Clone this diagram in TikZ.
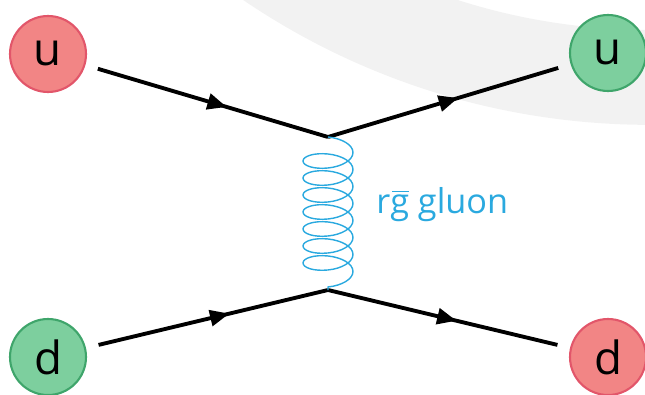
\documentclass[tikz,border=0pt]{standalone}
\usepackage{fontspec}
\setmainfont{Open Sans}
\usetikzlibrary{arrows.meta, decorations.pathmorphing, decorations.markings}

\definecolor{quarkred}{HTML}{F28585}
\definecolor{quarkredline}{HTML}{E2566A}
\definecolor{quarkgreen}{HTML}{7DCF9E}
\definecolor{quarkgreenline}{HTML}{3FA56B}
\definecolor{gluoncol}{HTML}{2AA9DF}
\definecolor{ringcol}{HTML}{F2F2F2}

% g amb barra (antigluo)
\newcommand{\gbarra}{\leavevmode\rlap{\kern0.06em\raisebox{0.6em}{\rule{0.48em}{0.055em}}}g}

\tikzset{
	quark/.style={circle, draw, line width=1.2pt, minimum size=1.52cm, inner sep=0pt,
		outer sep=0.28cm, font=\fontsize{26}{30}\selectfont},
	red quark/.style={quark, fill=quarkred, draw=quarkredline},
	green quark/.style={quark, fill=quarkgreen, draw=quarkgreenline},
	quark line/.style={line width=2.2pt, postaction={decorate},
		decoration={markings, mark=at position #1 with {\arrow{Triangle[length=11pt,width=9pt]}}}},
	gluon/.style={draw=gluoncol, line width=0.8pt, decorate,
		decoration={coil, aspect=0.45, segment length=0.34cm, amplitude=0.5cm}}
}

\begin{document}
\begin{tikzpicture}[x=0.02cm, y=-0.02cm]
\useasboundingbox (0,0) rectangle (645,395);

% L'arc gris del fons
\begin{scope}
\clip (0,0) rectangle (645,395);
\fill [ringcol, even odd rule] (650,-600) circle (14.5cm) (650,-600) circle (12.6cm);
\end{scope}

%%%%%%%%%%%%%%%%%%%%%%%%%%%%%%%%%%%%%%%%%%%%%%%%%%%%%%%%%%%%%%%%%%%%%%%%%%%%%%%%%%%%%%%%%%%%%%%%
% Quarks: entrada a l'esquerra, sortida a la dreta
%%%%%%%%%%%%%%%%%%%%%%%%%%%%%%%%%%%%%%%%%%%%%%%%%%%%%%%%%%%%%%%%%%%%%%%%%%%%%%%%%%%%%%%%%%%%%%%%
\node [red quark]	(uin)	at (48,54)	{u};
\node [green quark]	(uout)	at (608,53)	{u};
\node [green quark]	(din)	at (48,357)	{d};
\node [red quark]	(dout)	at (608,357)	{d};

% Vertexs
\coordinate (vtop) at (328,137);
\coordinate (vbot) at (328,290);

%%%%%%%%%%%%%%%%%%%%%%%%%%%%%%%%%%%%%%%%%%%%%%%%%%%%%%%%%%%%%%%%%%%%%%%%%%%%%%%%%%%%%%%%%%%%%%%%
% Connexions
%%%%%%%%%%%%%%%%%%%%%%%%%%%%%%%%%%%%%%%%%%%%%%%%%%%%%%%%%%%%%%%%%%%%%%%%%%%%%%%%%%%%%%%%%%%%%%%%
\draw [quark line=0.56]	(uin)	-- (vtop);
\draw [quark line=0.565]	(vtop)	-- (uout);
\draw [quark line=0.57]	(din)	-- (vbot);
\draw [quark line=0.56]	(vbot)	-- (dout);

% El gluo
\draw [gluon] (vtop) -- (vbot);
\node [anchor=base west, inner sep=0pt, text=gluoncol, font=\fontsize{19.5}{23}\selectfont] (glabel) at (376,213) {r\gbarra{} gluon};

\end{tikzpicture}
\end{document}
